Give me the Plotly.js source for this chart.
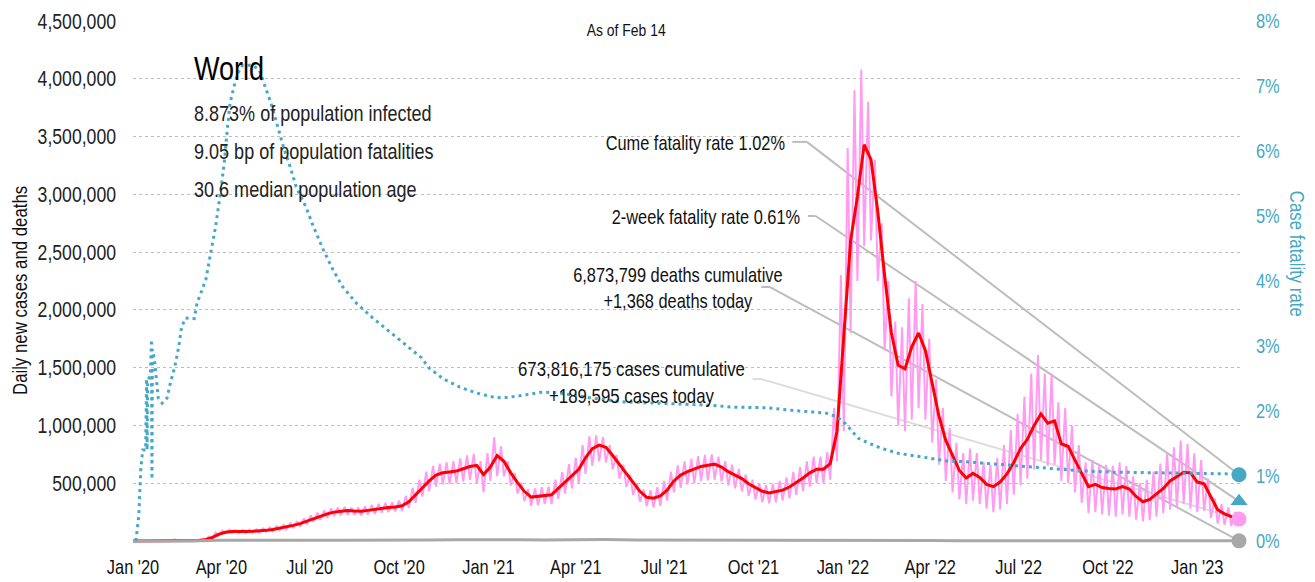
<!DOCTYPE html>
<html><head><meta charset="utf-8">
<script src="https://cdn.plot.ly/plotly-3.0.1.min.js"></script>
<style>html,body{margin:0;padding:0;background:#fff}#chart{width:1315px;height:582px}</style>
</head><body><div id="chart"></div>
<script>
// ---------- DATA (cases in thousands, weekly on Sundays) ----------
const weekStart2020 = '2020-01-05';
const weekStart2021 = '2021-01-03';
const weekStart2022 = '2022-01-02';
const weekStart2023 = '2023-01-01';

const avg2020 = [0,0,0.2,0.6, 2.5,3,4,2, 2,4,10,28,58, 76,82,80,83, 84,86,92,100,110, 122,135,150,172, 195,215,235,250, 258,264,260,258,265, 275,285,290,295, 305,340,400,460, 520,570,590,598,605, 625,645,655,575];
const hi2020  = [0,0,0.5,1.5, 3.5,4,15,3, 3,6,15,38,72, 90,98,95,97, 98,102,108,118,128, 140,155,172,195, 222,245,265,282, 290,295,290,290,300, 312,322,330,335, 350,390,460,530, 600,650,670,680,690, 715,740,755,690];
const lo2020  = [0,0,0,0.3, 1.5,2,2.5,1, 1,2,6,20,45, 65,70,68,70, 72,74,78,85,92, 100,112,125,145, 165,182,200,215, 222,228,225,222,228, 235,245,250,255, 260,285,330,385, 430,470,490,495,500, 515,530,500,420];

const avg2021 = [640,740,690,590,505, 430,380,385,395, 400,455,510,570, 620,720,800,830, 810,740,660,580,500, 430,378,370,390, 440,520,570,600, 620,645,655,665,640, 600,570,540,495, 460,430,415,425,440, 467,505,545,590, 622,622,670,950];
const hi2021  = [760,900,820,690,590, 505,450,455,465, 470,530,595,665, 720,830,905,915, 900,830,745,660,575, 500,445,440,465, 520,600,655,690, 710,735,745,750,730, 690,660,625,575, 530,500,485,495,520, 550,595,640,690, 730,730,770,1150];
const lo2021  = [520,560,560,480,410, 345,305,310,320, 320,365,410,455, 500,580,650,690, 680,620,540,470,400, 340,300,290,305, 350,420,460,490, 500,520,525,530,515, 480,455,430,390, 360,335,325,335,350, 370,400,430,470, 500,500,530,690];

const avg2022 = [1750,2600,2980,3430,3300, 2850,2300,1800,1520, 1490,1680,1800,1650, 1360,1080,870,740, 610,545,585,550,490, 470,510,580,680, 800,880,1000,1100,1020, 1040,840,820,700, 580,470,490,462, 455,450,470,450,385, 340,360,410,455, 520,554,595,590];
const hi2022  = [2300,3400,3900,4080,3800, 3300,2750,2250,1900, 1850,2100,2250,2050, 1750,1400,1150,980, 850,760,800,760,680, 660,720,830,960, 1100,1250,1450,1610,1450, 1450,1200,1150,1000, 830,680,700,670, 660,650,680,650,560, 500,530,600,670, 760,810,870,840];
const lo2022  = [950,1800,2250,2550,2600, 2250,1650,1250,1000, 950,1050,1150,1050, 850,660,520,420, 360,320,350,320,280, 250,270,320,400, 480,540,620,700, 650,660,520,500,420, 330,240,250,230, 220,210,230,210,185, 170,180,210,240, 270,290,320,280];

const avg2023 = [510,495,380,270,235,210,190];
const hi2023  = [760,700,540,370,320,290,250];
const lo2023  = [250,260,200,150,140,130,180];

// daily deaths (thousands)
const deathDates = ['2020-01-01','2020-02-01','2020-03-01','2020-04-01','2020-05-01','2020-06-01','2020-07-01','2020-08-01','2020-09-01','2020-10-01','2020-11-01','2020-12-01',
  '2021-01-01','2021-02-01','2021-03-01','2021-04-01','2021-05-01','2021-06-01','2021-07-01','2021-08-01','2021-09-01','2021-10-01','2021-11-01','2021-12-01',
  '2022-01-01','2022-02-01','2022-03-01','2022-04-01','2022-05-01','2022-06-01','2022-07-01','2022-08-01','2022-09-01','2022-10-01','2022-11-01','2022-12-01',
  '2023-01-01','2023-02-01','2023-02-13'];
const deathVals = [0,0.1,1,7,5,4.5,5.5,6,5.5,6,9,11.5, 14,11,9.5,12.5,12.5,9,8.5,10,9.5,7.5,7,7, 8,11,6.5,4,2.5,1.8,2.2,2.3,1.8,1.6,1.5,1.5, 2.5,1.5,1.368];

// cumulative case fatality rate (%)
const cfrDates = ['2020-01-04','2020-01-07','2020-01-09','2020-01-11','2020-01-14','2020-01-15','2020-01-15 12:00','2020-01-16','2020-01-19','2020-01-20','2020-01-20 12:00','2020-01-21','2020-01-23','2020-01-25','2020-01-27','2020-01-31','2020-02-05','2020-02-08','2020-02-13','2020-02-17','2020-02-20','2020-02-24','2020-03-04','2020-03-07','2020-03-16','2020-03-21','2020-03-26','2020-03-31','2020-04-04','2020-04-07','2020-04-10','2020-04-15','2020-04-18','2020-04-23','2020-05-03','2020-05-10','2020-05-17','2020-05-22','2020-05-28','2020-06-04','2020-06-11','2020-06-17','2020-06-27','2020-07-05','2020-07-15','2020-07-25','2020-08-04','2020-08-18','2020-09-04','2020-09-21','2020-10-04','2020-10-14','2020-10-24','2020-11-01','2020-11-15','2020-12-02','2020-12-19','2021-01-04','2021-01-15','2021-02-01','2021-02-25','2021-03-14','2021-04-17','2021-05-21','2021-06-24','2021-08-15','2021-09-10','2021-10-14','2021-11-17','2021-12-14','2021-12-24','2021-12-31','2022-01-07','2022-01-17','2022-01-27','2022-02-09','2022-02-27','2022-03-16','2022-04-02','2022-04-19','2022-05-07','2022-06-10','2022-07-29','2022-09-02','2022-10-06','2022-12-14','2023-02-13'];
const cfrVals = [0,0.4,1.1,1.4,1.4,2.5,1.4,2.4,2.6,3.1,0.95,2.95,2.8,2.5,2.2,2.12,2.2,2.4,2.68,2.98,3.29,3.43,3.42,3.66,4.02,4.43,4.83,5.35,5.82,6.32,6.74,7.05,7.2,7.32,7.32,7.25,6.97,6.74,6.43,6.06,5.75,5.45,5.14,4.83,4.48,4.17,3.91,3.66,3.43,3.22,3.06,2.94,2.82,2.66,2.5,2.37,2.28,2.22,2.2,2.23,2.29,2.28,2.2,2.14,2.12,2.09,2.06,2.05,2.0,1.97,1.92,1.86,1.75,1.58,1.51,1.43,1.35,1.31,1.26,1.23,1.22,1.18,1.12,1.08,1.06,1.05,1.03];

// axis ticks
const leftTicks = [500000,1000000,1500000,2000000,2500000,3000000,3500000,4000000,4500000];
const rightTicks = [0,1,2,3,4,5,6,7,8];
const rightTickText = ['0%','1%','2%','3%','4%','5%','6%','7%','8%'];

// latest values
const lastDate = '2023-02-13';
const cumeCfr = 1.02, twoWeekCfr = 0.61, casesToday = 189595, deathsToday = 1368;

// ---------- BUILD ----------
function addDays(s, n){ const d = new Date(s+'T00:00:00Z'); d.setUTCDate(d.getUTCDate()+n); return d.toISOString().slice(0,10); }
const blocks = [[weekStart2020,avg2020,hi2020,lo2020],[weekStart2021,avg2021,hi2021,lo2021],[weekStart2022,avg2022,hi2022,lo2022],[weekStart2023,avg2023,hi2023,lo2023]];
const avgX=[], avgY=[], dayX=[], dayY=[];
avgX.push('2020-01-01'); avgY.push(0);
blocks.forEach(([s,a,h,l])=>{
  a.forEach((v,i)=>{
    const sun = addDays(s, 7*i);
    avgX.push(sun); avgY.push(v*1000);
    dayX.push(addDays(sun,-3)); dayY.push(h[i]*1000);
    dayX.push(sun); dayY.push(l[i]*1000);
  });
});
avgX.push(lastDate); avgY.push(casesToday);

const FONT = '"Liberation Sans", Arial, sans-serif';
const SQUEEZE = 0.82;   // horizontal condensing of all text
const TEAL = '#45a8c4', PINK = '#ff9cf2', GREY_C = '#bdbdbd';

const traces = [
  {x: dayX, y: dayY, type:'scatter', mode:'lines', line:{color:PINK, width:2}, hoverinfo:'skip'},
  {x: avgX, y: avgY, type:'scatter', mode:'lines', line:{color:'#ff0000', width:3}, hoverinfo:'skip'},
  {x: deathDates, y: deathVals.map(v=>v*1000), type:'scatter', mode:'lines', line:{color:'#a8a8a8', width:3}, hoverinfo:'skip'},
  {x: cfrDates, y: cfrVals, yaxis:'y2', type:'scatter', mode:'lines', line:{color:TEAL, width:3, dash:'3px,4px'}, hoverinfo:'skip'},
  {x:[lastDate], y:[casesToday], type:'scatter', mode:'markers', marker:{color:PINK, size:15}, cliponaxis:false, hoverinfo:'skip'},
  {x:[lastDate], y:[deathsToday], type:'scatter', mode:'markers', marker:{color:'#a8a8a8', size:15}, cliponaxis:false, hoverinfo:'skip'},
  {x:[lastDate], y:[cumeCfr], yaxis:'y2', type:'scatter', mode:'markers', marker:{color:TEAL, size:15}, cliponaxis:false, hoverinfo:'skip'},
  {x:[lastDate], y:[twoWeekCfr], yaxis:'y2', type:'scatter', mode:'markers', marker:{color:TEAL, size:15, symbol:'triangle-up'}, cliponaxis:false, hoverinfo:'skip'}
];

function seg(x0,y0,x1,y1,yref,color){ return {type:'line', xref:'x', yref:yref, x0:x0, y0:y0, x1:x1, y1:y1, line:{color:color, width:2}, layer:'below'}; }
const shapes = [
  seg('2021-11-10',6.14,'2021-11-25',6.14,'y2',GREY_C), seg('2021-11-25',6.14,lastDate,cumeCfr,'y2',GREY_C),
  seg('2021-11-26',5.0,'2021-12-04',5.0,'y2',GREY_C), seg('2021-12-04',5.0,lastDate,twoWeekCfr,'y2',GREY_C),
  seg('2021-10-09',2198000,'2021-10-18',2198000,'y',GREY_C), seg('2021-10-18',2198000,lastDate,deathsToday,'y',GREY_C),
  seg('2021-09-30',1402000,'2021-10-09',1402000,'y','#dcdcdc'), seg('2021-10-09',1402000,lastDate,casesToday,'y','#dcdcdc')
];

// plot area: x 133..1240, y 19..541 (zero at 541)
function px(xp){ return (xp-133)/1107; }
function py(yp){ return (541-yp)/520; }
const tf = (s,c)=>({family:FONT, size:s, color:c||'#111'});
const annotations = [
  {xref:'paper', yref:'paper', x:px(626), y:py(30), text:'As of Feb 14', showarrow:false, font:tf(17), xanchor:'center', yanchor:'middle'},
  {xref:'paper', yref:'paper', x:px(192), y:py(68), text:'World', showarrow:false, font:tf(33,'#000'), xanchor:'left', yanchor:'middle', align:'left'},
  {xref:'paper', yref:'paper', x:px(192), y:py(113), text:'8.873% of population infected', showarrow:false, font:tf(22,'#222'), xanchor:'left', yanchor:'middle', align:'left'},
  {xref:'paper', yref:'paper', x:px(192), y:py(151), text:'9.05 bp of population fatalities', showarrow:false, font:tf(22,'#222'), xanchor:'left', yanchor:'middle', align:'left'},
  {xref:'paper', yref:'paper', x:px(192), y:py(189), text:'30.6 median population age', showarrow:false, font:tf(22,'#222'), xanchor:'left', yanchor:'middle', align:'left'},
  {xref:'paper', yref:'paper', x:px(787), y:py(143), text:'Cume fatality rate 1.02%', showarrow:false, font:tf(20), xanchor:'right', yanchor:'middle', align:'right'},
  {xref:'paper', yref:'paper', x:px(802), y:py(216), text:'2-week fatality rate 0.61%', showarrow:false, font:tf(20), xanchor:'right', yanchor:'middle', align:'right'},
  {xref:'paper', yref:'paper', x:px(678), y:py(287), text:'6,873,799 deaths cumulative<br>+1,368 deaths today', showarrow:false, font:tf(20), xanchor:'center', yanchor:'middle', align:'center'},
  {xref:'paper', yref:'paper', x:px(631), y:py(381), text:'673,816,175 cases cumulative<br>+189,595 cases today', showarrow:false, font:tf(20.5), xanchor:'center', yanchor:'middle', align:'center'},
  {xref:'paper', yref:'paper', x:px(19), y:py(290), text:'Daily new cases and deaths', showarrow:false, textangle:-90, font:tf(20.5), xanchor:'center', yanchor:'middle'},
  {xref:'paper', yref:'paper', x:px(1297), y:py(253), text:'Case fatality rate', showarrow:false, textangle:90, font:tf(20.5, TEAL), xanchor:'center', yanchor:'middle'}
];

const layout = {
  width:1315, height:582,
  margin:{l:133, r:75, t:21, b:39, pad:0},
  paper_bgcolor:'#fff', plot_bgcolor:'#fff',
  showlegend:false,
  font:{family:FONT, size:20, color:'#222'},
  xaxis:{type:'date', range:['2020-01-01','2023-02-14'], tick0:'2020-01-01', dtick:'M3', tickformat:"%b '%y",
         showgrid:false, zeroline:false, showline:false, ticks:'', ticklabelstandoff:10, tickfont:tf(20,'#111')},
  yaxis:{range:[-17300,4500000], tickmode:'array', tickvals:leftTicks, tickformat:',d', showgrid:true, gridcolor:'#bdbdbd', griddash:'dot', gridwidth:1,
         zeroline:false, showline:false, ticks:'', ticklabelstandoff:16, tickfont:tf(21.5,'#222')},
  yaxis2:{overlaying:'y', side:'right', range:[-0.0308,8], tickmode:'array', tickvals:rightTicks, ticktext:rightTickText, showgrid:false, zeroline:false, showline:false,
          ticks:'', ticklabelstandoff:15, tickfont:tf(20,TEAL)},
  shapes:shapes,
  annotations:annotations
};

function condense(gd, s){
  gd.querySelectorAll('svg.main-svg text').forEach(t=>{
    if (t.getAttribute('data-cond')) return;
    const x = parseFloat(t.getAttribute('x')||0) || 0;
    const y = parseFloat(t.getAttribute('y')||0) || 0;
    const tr = t.getAttribute('transform')||'';
    t.setAttribute('transform', (tr+' translate('+x+','+y+') scale('+s+',1) translate('+(-x)+','+(-y)+')').trim());
    t.setAttribute('data-cond','1');
  });
}

const gd = document.getElementById('chart');
Plotly.newPlot(gd, traces, layout, {displayModeBar:false, staticPlot:true}).then(()=>condense(gd, SQUEEZE));
</script>
</body></html>
